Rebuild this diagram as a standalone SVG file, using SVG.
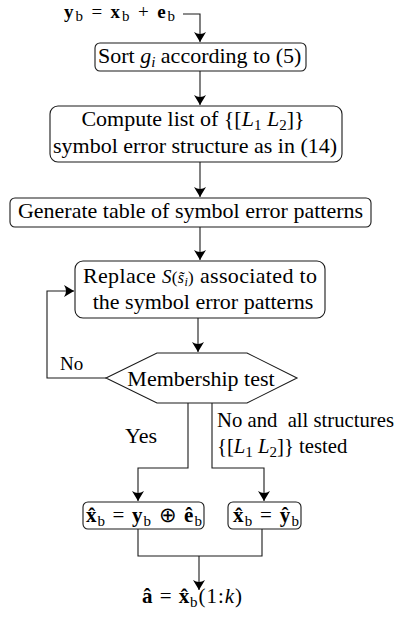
<svg xmlns="http://www.w3.org/2000/svg" width="395" height="618" viewBox="0 0 395 618">
<style>
.box{fill:#fff;stroke:#1a1a1a;stroke-width:1.1}
.ln{fill:none;stroke:#1a1a1a;stroke-width:1.1}
.t{font-family:"Liberation Serif","Times New Roman",serif;font-size:22px;fill:#000}
.tc{text-anchor:middle}
.m{font-family:"Liberation Serif","Times New Roman",serif;font-size:21px;fill:#000}
.bf{font-weight:bold}
.it{font-style:italic}
.sb{font-size:15px}
</style>
<defs>
<marker id="ah" viewBox="0 0 10 12" refX="10" refY="6" markerWidth="10" markerHeight="12" markerUnits="userSpaceOnUse" orient="auto">
<path d="M0,0 Q4,6 0,12 L10,6 Z" fill="#000"/>
</marker>
</defs>
<rect width="395" height="618" fill="#fff"/>
<g id="connectors">
<polyline class="ln" points="183,14 200,14 200,42" marker-end="url(#ah)"/>
<line class="ln" x1="200" y1="71" x2="200" y2="105" marker-end="url(#ah)"/>
<line class="ln" x1="200" y1="162" x2="200" y2="197" marker-end="url(#ah)"/>
<line class="ln" x1="200" y1="227" x2="200" y2="260" marker-end="url(#ah)"/>
<line class="ln" x1="198" y1="318" x2="198" y2="352" marker-end="url(#ah)"/>
<polyline class="ln" points="106,378 47,378 47,291 74,291" marker-end="url(#ah)"/>
<polyline class="ln" points="188,403 188,468 138,468 138,501" marker-end="url(#ah)"/>
<polyline class="ln" points="212,403 212,468 264,468 264,501" marker-end="url(#ah)"/>
<polyline class="ln" points="138,529 138,556 262,556 262,529"/>
<line class="ln" x1="199" y1="556" x2="199" y2="590" marker-end="url(#ah)"/>
<text class="t" x="60" y="370" style="font-size:19px">No</text>
<text class="t" x="125" y="443">Yes</text>
<text class="t" x="217" y="427" style="font-size:20.7px">No and&#160; all structures</text>
<text class="t" x="217" y="453" style="font-size:20.7px">{[<tspan class="it">L</tspan><tspan class="sb" dy="4">1</tspan><tspan dy="-4">&#160;</tspan><tspan class="it">L</tspan><tspan class="sb" dy="4">2</tspan><tspan dy="-4">]} tested</tspan></text>
</g>
<g id="input">
<text class="m" x="64" y="18" style="font-size:19px" textLength="111" lengthAdjust="spacing"><tspan class="bf">y</tspan><tspan class="sb" dy="3">b</tspan><tspan dy="-3"> = </tspan><tspan class="bf">x</tspan><tspan class="sb" dy="3">b</tspan><tspan dy="-3"> + </tspan><tspan class="bf">e</tspan><tspan class="sb" dy="3">b</tspan></text>
</g>
<g id="sort">
<rect class="box" x="95" y="43" width="211" height="28" rx="5"/>
<text class="t" x="98" y="63">Sort <tspan class="it">g</tspan><tspan class="it sb" dy="4">i</tspan><tspan dy="-4"> according to (5)</tspan></text>
</g>
<g id="compute">
<rect class="box" x="50" y="106" width="292" height="56" rx="8"/>
<text class="t tc" x="193" y="126">Compute list of {[<tspan class="it">L</tspan><tspan class="sb" dy="4">1</tspan><tspan dy="-4">&#160;</tspan><tspan class="it">L</tspan><tspan class="sb" dy="4">2</tspan><tspan dy="-4">]}</tspan></text>
<text class="t tc" x="195" y="153">symbol error structure as in (14)</text>
</g>
<g id="generate">
<rect class="box" x="10" y="198" width="361" height="29" rx="5"/>
<text class="t tc" x="190.5" y="218">Generate table of symbol error patterns</text>
</g>
<g id="replace">
<rect class="box" x="75" y="261" width="250" height="57" rx="8"/>
<text class="t" x="83" y="283" textLength="234" lengthAdjust="spacing">Replace <tspan class="it" style="font-size:19px">S</tspan><tspan style="font-size:17px">(</tspan><tspan class="it" style="font-size:16px">s&#771;</tspan><tspan class="it" style="font-size:12px" dy="3">i</tspan><tspan style="font-size:17px" dy="-3">)</tspan> associated to</text>
<text class="t tc" x="203" y="309">the symbol error patterns</text>
</g>
<g id="membership">
<polygon class="box" points="106,378 157,353 247,353 297,378 247,403 157,403"/>
<text class="t tc" x="201" y="386">Membership test</text>
</g>
<g id="result-yes">
<rect class="box" x="83" y="502" width="121" height="27" rx="5"/>
<text class="m" x="86" y="522" textLength="116" lengthAdjust="spacing"><tspan class="bf">x&#770;</tspan><tspan class="sb" dy="4">b</tspan><tspan dy="-4"> = </tspan><tspan class="bf">y</tspan><tspan class="sb" dy="4">b</tspan><tspan dy="-4"> ⊕ </tspan><tspan class="bf">e&#770;</tspan><tspan class="sb" dy="4">b</tspan></text>
</g>
<g id="result-no">
<rect class="box" x="228" y="502" width="73" height="27" rx="5"/>
<text class="m" x="233" y="522" textLength="66" lengthAdjust="spacing"><tspan class="bf">x&#770;</tspan><tspan class="sb" dy="4">b</tspan><tspan dy="-4"> = </tspan><tspan class="bf">y&#770;</tspan><tspan class="sb" dy="4">b</tspan></text>
</g>
<g id="output">
<text class="m" x="142" y="603" textLength="100" lengthAdjust="spacing"><tspan class="bf">a&#770;</tspan> = <tspan class="bf">x&#770;</tspan><tspan class="sb" dy="4">b</tspan><tspan dy="-4">(1:</tspan><tspan class="it">k</tspan>)</text>
</g>
</svg>
